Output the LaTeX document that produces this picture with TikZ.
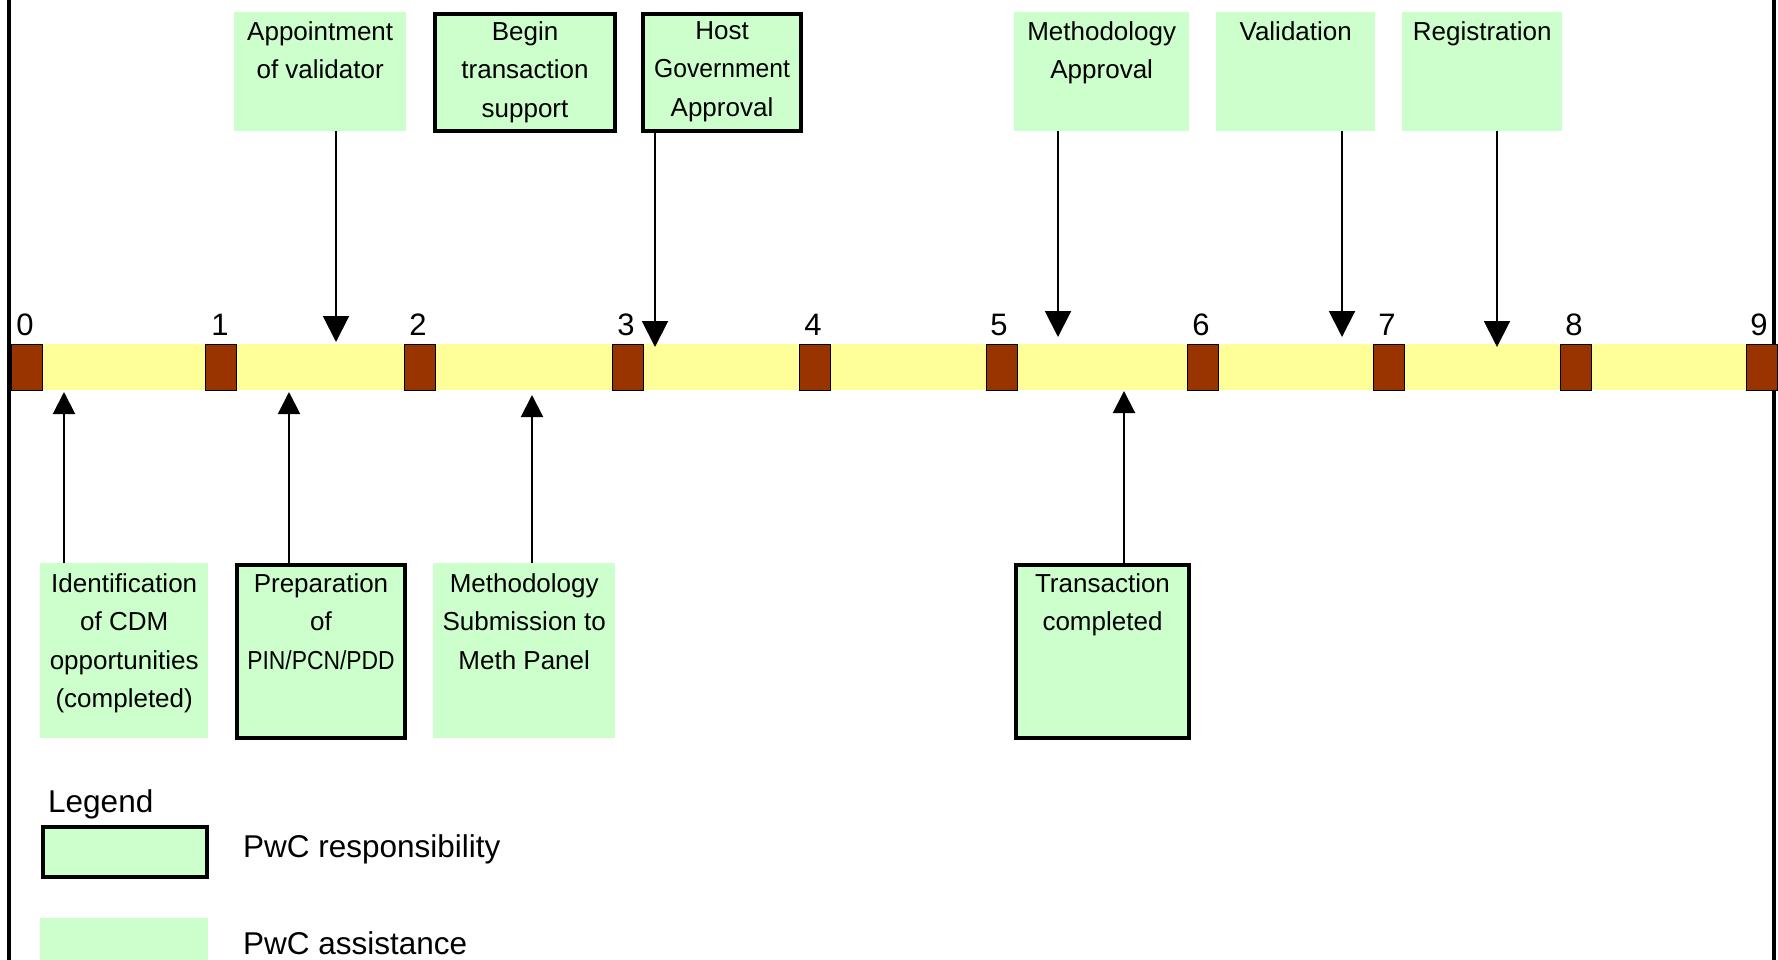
\documentclass[tikz,border=0pt]{standalone}
\usepackage{fontspec}
\setmainfont{Liberation Sans}
\usetikzlibrary{arrows.meta,calc}
\definecolor{boxgreen}{HTML}{CCFFCC}
\definecolor{baryellow}{HTML}{FFFF99}
\definecolor{tickbrown}{HTML}{993300}
\tikzset{
 assist/.style={rectangle, fill=boxgreen, draw=none, inner sep=0pt, anchor=north west},
 resp/.style={rectangle, fill=boxgreen, draw=black, line width=4pt, inner sep=0pt, anchor=north west},
 boxtext/.style={font=\fontsize{26}{38.5}\selectfont, align=center, inner sep=0pt, anchor=north},
 ticklabel/.style={font=\fontsize{31}{31}\selectfont, inner sep=0pt},
 tickbox/.style={fill=tickbrown, draw=black, line width=1pt},
 downarr/.style={line width=2pt, -{Triangle[width=26pt,length=26pt]}},
 uparr/.style={line width=2pt, -{Triangle[width=22pt,length=22pt]}},
 legendtext/.style={font=\fontsize{31.5}{31.5}\selectfont, inner sep=0pt, anchor=west},
 frameline/.style={line width=3.5pt, black},
}
\begin{document}
\begin{tikzpicture}[x=1pt,y=-1pt]
\useasboundingbox (0,0) rectangle (1778,960);
\fill[white] (0,0) rectangle (1778,960);
% frame lines
\draw[frameline] (9,0) -- (9,960);
\draw[frameline] (1774,0) -- (1774,960);
% time bar
\fill[baryellow] (11,344) rectangle (1778,390);
\foreach \x/\l/\n in {11.5/0/25, 205/1/220, 404/2/418, 612/3/626, 799/4/813, 986/5/999, 1187/6/1201, 1373/7/1387, 1560/8/1574, 1746/9/1759}{
  \draw[tickbox] (\x,344) rectangle ({\x+31},390);
  \node[ticklabel] (lab\l) at (\n,325) {\l};
}
% top boxes
\node[assist, minimum width=172pt, minimum height=119pt] (app) at (234,12) {};
\node[resp, minimum width=180pt, minimum height=117pt] (begin) at (433,12) {};
\node[resp, minimum width=158pt, minimum height=117pt] (host) at (641,12) {};
\node[assist, minimum width=175pt, minimum height=119pt] (mapp) at (1014,12) {};
\node[assist, minimum width=159pt, minimum height=119pt] (valid) at (1216,12) {};
\node[assist, minimum width=160pt, minimum height=119pt] (reg) at (1402,12) {};
\node[boxtext] (appT) at ([yshift=-9pt]app.north) {Appointment\\of validator};
\node[boxtext] (beginT) at ([yshift=-9pt]begin.north) {Begin\\transaction\\support};
\node[boxtext] (hostT) at ([yshift=-9pt]host.north) {Host\\\scalebox{0.95}[1]{Government}\\Approval};
\node[boxtext] (mappT) at ([yshift=-9pt]mapp.north) {Methodology\\Approval};
\node[boxtext] (validT) at ([yshift=-9pt]valid.north) {Validation};
\node[boxtext] (regT) at ([yshift=-9pt]reg.north) {Registration};
% bottom boxes
\node[assist, minimum width=168pt, minimum height=175pt] (ident) at (40,563) {};
\node[resp, minimum width=168pt, minimum height=173pt] (prep) at (235,563) {};
\node[assist, minimum width=182pt, minimum height=175pt] (msub) at (433,563) {};
\node[resp, minimum width=173pt, minimum height=173pt] (trans) at (1014,563) {};
\node[boxtext] (identT) at ([yshift=-10pt]ident.north) {Identification\\of CDM\\opportunities\\(completed)};
\node[boxtext] (prepT) at ([yshift=-10pt]prep.north) {Preparation\\of\\\scalebox{0.88}[1]{PIN/PCN/PDD}};
\node[boxtext] (msubT) at ([yshift=-10pt]msub.north) {Methodology\\Submission to\\Meth Panel};
\node[boxtext] (transT) at ([yshift=-10pt]trans.north) {Transaction\\completed};
% arrow tips on the bar
\coordinate (tApp) at (336,342);
\coordinate (tHost) at (655,347);
\coordinate (tMapp) at (1058,337);
\coordinate (tValid) at (1342,337);
\coordinate (tReg) at (1497,347);
\coordinate (tIdent) at (64,392);
\coordinate (tPrep) at (289,392);
\coordinate (tMsub) at (532,395);
\coordinate (tTrans) at (1124,391);
% top arrows
\draw[downarr] (app.south -| tApp) -- (tApp);
\draw[downarr] (host.south -| tHost) -- (tHost);
\draw[downarr] (mapp.south -| tMapp) -- (tMapp);
\draw[downarr] (valid.south -| tValid) -- (tValid);
\draw[downarr] (reg.south -| tReg) -- (tReg);
% bottom arrows
\draw[uparr] (ident.north -| tIdent) -- (tIdent);
\draw[uparr] (prep.north -| tPrep) -- (tPrep);
\draw[uparr] (msub.north -| tMsub) -- (tMsub);
\draw[uparr] (trans.north -| tTrans) -- (tTrans);
% legend
\node[legendtext] (legT) at (48,804) {Legend};
\node[resp, minimum width=164pt, minimum height=50pt] (legResp) at (41,825) {};
\node[legendtext] (legRespT) at (243,849) {PwC responsibility};
\node[assist, minimum width=168pt, minimum height=42pt] (legAssist) at (40,918) {};
\node[legendtext] (legAssistT) at (243,943) {PwC assistance};
\end{tikzpicture}
\end{document}
